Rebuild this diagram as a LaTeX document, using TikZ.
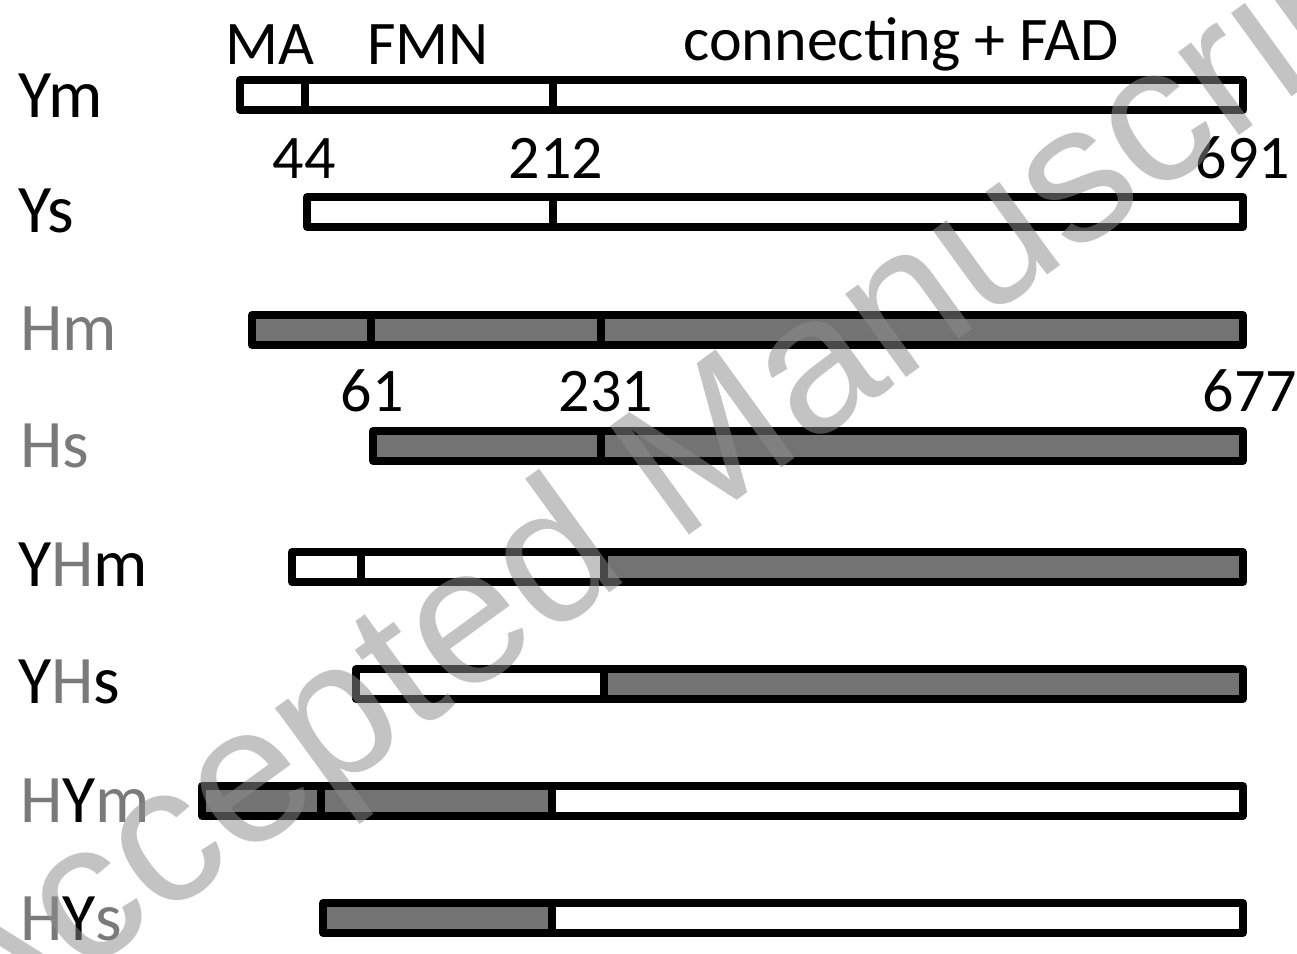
\documentclass[tikz,border=0pt]{standalone}
\usepackage{fontspec}
\setmainfont{Carlito}
\newfontfamily\wmfont{Liberation Sans}
\usepackage{tikz}
\definecolor{hgray}{HTML}{737373}
\definecolor{hlabel}{HTML}{7A7A7A}
\definecolor{wmgray}{HTML}{8C8C8C}
\begin{document}
\begin{tikzpicture}[x=1pt, y=-1pt,
  barline/.style={line width=7.5pt, line join=round},
  rowlabel/.style={anchor=base west, inner sep=0pt, font=\fontsize{68}{74}\selectfont},
  poslabel/.style={anchor=base, inner sep=0pt, font=\fontsize{62}{70}\selectfont},
  watermark/.style={inner sep=0pt, text=wmgray, text opacity=0.52, font=\wmfont\fontsize{195}{195}\selectfont}]
\fill[white] (0,0) rectangle (1297,953);
\useasboundingbox (0,0) rectangle (1297,953);
% domain names
\node[poslabel] (ma) at (270,64) {MA};
\node[poslabel] (fmn) at (428,64) {FMN};
\node[poslabel] (fad) at (901,60) {connecting + FAD};
% bars: row y / left end / main split / left fill / right fill / MA divider
\foreach \y/\l/\m/\a/\b/\d in {95/240/553/white/white/305, 212/307/553/white/white/307,
  330/252/601/hgray/hgray/371, 446/373/601/hgray/hgray/373,
  567/292/604/white/hgray/361, 684/356/604/white/hgray/356,
  801/202/552/hgray/white/321, 918/323/552/hgray/white/323} {
  \fill[\a] (\l,\y-15) rectangle (\m,\y+15);
  \fill[\b] (\m,\y-15) rectangle (1243,\y+15);
  \draw[barline] (\m,\y-15) -- (\m,\y+15) (\d,\y-15) -- (\d,\y+15);
  \draw[barline] (\l,\y-15) rectangle (1243,\y+15);
}
% residue numbers
\node[poslabel] (n44) at (304,178) {44};
\node[poslabel] (n212) at (556,178) {212};
\node[poslabel] (n691) at (1243,178) {691};
\node[poslabel] (n61) at (372,411) {61};
\node[poslabel] (n231) at (606,411) {231};
\node[poslabel] (n677) at (1250,411) {677};
% constructs
\node[rowlabel] (ym) at (18,117) {Ym};
\node[rowlabel] (ys) at (18,232) {Ys};
\node[rowlabel, text=hlabel] (hm) at (20,350) {Hm};
\node[rowlabel, text=hlabel] (hs) at (20,467) {Hs};
\node[rowlabel] (yhm) at (18,586) {Y{\color{hlabel}H}m};
\node[rowlabel] (yhs) at (18,703) {Y{\color{hlabel}H}s};
\node[rowlabel, text=hlabel] (hym) at (20,822) {H{\color{black}Y}m};
\node[rowlabel, text=hlabel] (hys) at (20,940) {H{\color{black}Y}s};
% watermark
\node[watermark, rotate=36] (wm) at (682,478) {Accepted Manuscript};
\end{tikzpicture}
\end{document}
